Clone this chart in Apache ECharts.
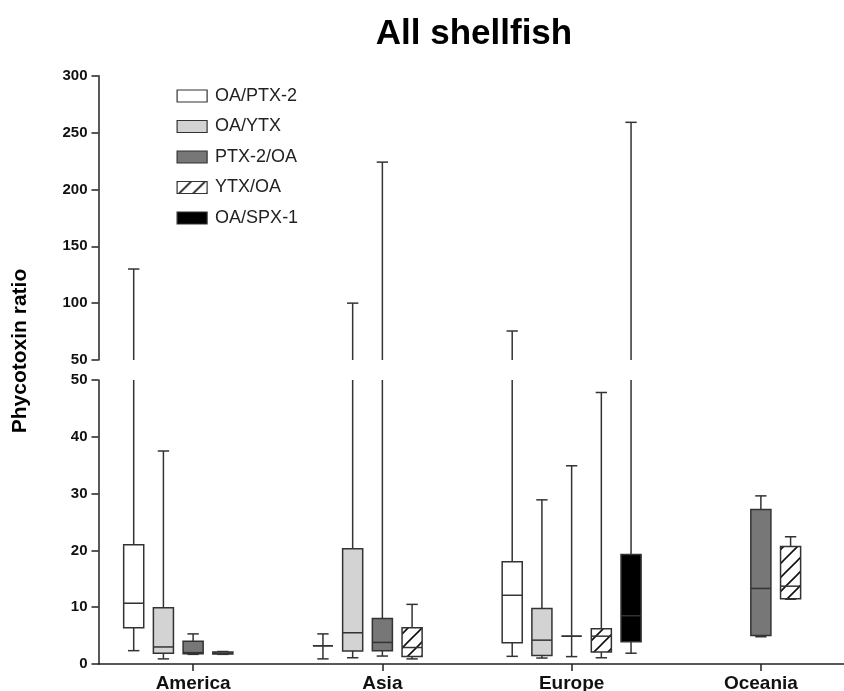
<!DOCTYPE html>
<html>
<head>
<meta charset="utf-8">
<script src="https://cdn.jsdelivr.net/npm/echarts@6/dist/echarts.min.js"></script>
<style>
html,body{margin:0;padding:0;background:#fff;}
#chart{width:844px;height:691px;}
</style>
</head>
<body>
<div id="chart"></div>
<script>
// ---- data ----
const categories = ['America', 'Asia', 'Europe', 'Oceania'];
const seriesNames = ['OA/PTX-2', 'OA/YTX', 'PTX-2/OA', 'YTX/OA', 'OA/SPX-1'];
// per category: [min, Q1, median, Q3, max]; null = no data
const oaPtx2 = [[2.35, 6.4, 10.7, 21.0, 130], [0.9, 3.2, 3.2, 3.2, 5.3], [1.35, 3.75, 12.1, 18.0, 75.5], null];
const oaYtx = [[0.9, 1.9, 3.0, 9.9, 37.5], [1.1, 2.3, 5.5, 20.3, 100], [1.05, 1.5, 4.2, 9.75, 28.9], null];
const ptx2Oa = [[1.7, 1.8, 2.0, 4.0, 5.3], [1.4, 2.35, 3.8, 8.0, 224], [1.3, 4.9, 4.9, 4.9, 34.9], [4.8, 5.0, 13.3, 27.2, 29.6]];
const ytxOa = [[1.7, 1.75, 1.9, 2.1, 2.2], [0.9, 1.3, 2.9, 6.4, 10.5], [1.1, 2.1, 4.9, 6.2, 47.8], [11.4, 11.5, 13.7, 20.7, 22.4]];
const oaSpx1 = [null, null, [1.9, 3.9, 8.5, 19.3, 259], null];
const seriesData = [oaPtx2, oaYtx, ptx2Oa, ytxOa, oaSpx1];
const lowerTicks = [0, 50, 10];   // min, max, interval
const upperTicks = [50, 300, 50];

// ---- styles ----
const hatch = document.createElement('canvas');
hatch.width = 14; hatch.height = 14;
(function () {
  const c = hatch.getContext('2d');
  c.fillStyle = '#fff'; c.fillRect(0, 0, 14, 14);
  c.strokeStyle = '#111'; c.lineWidth = 1.6;
  c.beginPath();
  c.moveTo(-2, 16); c.lineTo(16, -2);
  c.moveTo(-2, 2); c.lineTo(2, -2);
  c.moveTo(12, 16); c.lineTo(16, 12);
  c.stroke();
})();
const hatchFill = { image: hatch, repeat: 'repeat' };
const fills = ['#ffffff', '#d3d3d3', '#777777', hatchFill, '#000000'];
const STROKE = '#333';
const LW = 1.5;

function makeRender(sIdx, part) {
  return function (params, api) {
    const cat = api.value(0);
    const mn = api.value(1), q1 = api.value(2), md = api.value(3), q3 = api.value(4), mx = api.value(5);
    const band = api.size([1, 0])[0];
    const cx = api.coord([cat, part === 'upper' ? 100 : 10])[0] + (sIdx - 2) * band * 0.157;
    const bw = band * 0.106;
    const cw = band * 0.06;
    const Y = v => api.coord([cat, v])[1];
    const children = [];
    const line = (x1, y1, x2, y2) => children.push({
      type: 'line', shape: { x1, y1, x2, y2 },
      style: { stroke: STROKE, lineWidth: LW }
    });
    if (part === 'upper') {
      if (mx > 50) {
        line(cx, Y(50), cx, Y(mx));
        line(cx - cw / 2, Y(mx), cx + cw / 2, Y(mx));
      }
    } else {
      const top = Math.min(mx, 50);
      line(cx, Y(mn), cx, Y(q1));
      line(cx - cw / 2, Y(mn), cx + cw / 2, Y(mn));
      line(cx, Y(q3), cx, Y(top));
      if (mx <= 50) line(cx - cw / 2, Y(mx), cx + cw / 2, Y(mx));
      children.push({
        type: 'rect',
        shape: { x: cx - bw / 2, y: Y(q3), width: bw, height: Y(q1) - Y(q3) },
        style: { fill: fills[sIdx], stroke: STROKE, lineWidth: LW }
      });
      line(cx - bw / 2, Y(md), cx + bw / 2, Y(md));
    }
    return { type: 'group', children };
  };
}

const series = [];
seriesData.forEach((arr, sIdx) => {
  const data = [];
  arr.forEach((v, ci) => { if (v) data.push([ci].concat(v)); });
  ['lower', 'upper'].forEach(part => {
    series.push({
      type: 'custom',
      name: seriesNames[sIdx],
      xAxisIndex: part === 'upper' ? 0 : 1,
      yAxisIndex: part === 'upper' ? 0 : 1,
      renderItem: makeRender(sIdx, part),
      encode: { x: 0, y: [1, 2, 3, 4, 5] },
      itemStyle: { color: fills[sIdx], borderColor: STROKE, borderWidth: 1.2 },
      clip: false,
      silent: true,
      data
    });
  });
});

const FONT = 'Liberation Sans, Arial, sans-serif';
const yAxisCommon = {
  type: 'value',
  axisLine: { show: true, lineStyle: { color: '#222', width: 1.5 } },
  axisTick: { show: true, length: 7, lineStyle: { color: '#222', width: 1.5 } },
  axisLabel: { fontFamily: FONT, fontWeight: 'bold', fontSize: 15, color: '#111', margin: 11 },
  splitLine: { show: false }
};

const option = {
  animation: false,
  backgroundColor: '#fff',
  grid: [
    { left: 98.5, width: 757, top: 75.7, height: 284.3, outerBoundsMode: 'none' },
    { left: 98.5, width: 757, top: 380, height: 284, outerBoundsMode: 'none' }
  ],
  xAxis: [
    { type: 'category', gridIndex: 0, data: categories, show: false },
    {
      type: 'category', gridIndex: 1, data: categories,
      axisLine: { show: true, lineStyle: { color: '#222', width: 1.5 } },
      axisTick: { show: true, alignWithLabel: true, length: 7, lineStyle: { color: '#222', width: 1.5 } },
      axisLabel: { fontFamily: FONT, fontWeight: 'bold', fontSize: 19, color: '#111', margin: 10 }
    }
  ],
  yAxis: [
    Object.assign({}, yAxisCommon, { gridIndex: 0, min: upperTicks[0], max: upperTicks[1], interval: upperTicks[2] }),
    Object.assign({}, yAxisCommon, { gridIndex: 1, min: lowerTicks[0], max: lowerTicks[1], interval: lowerTicks[2] })
  ],
  legend: {
    orient: 'vertical',
    left: 171.5, top: 82,
    icon: 'rect',
    itemWidth: 30, itemHeight: 12, itemGap: 12.5,
    selectedMode: false,
    itemStyle: { borderColor: STROKE, borderWidth: 1.2 },
    textStyle: { fontFamily: FONT, fontSize: 18, color: '#222', lineHeight: 18, padding: [0, 0, 0, 3] },
    data: seriesNames
  },
  graphic: [
    {
      type: 'text', x: 474, y: 34,
      style: { text: 'All shellfish', x: 0, y: 0, textAlign: 'center', textVerticalAlign: 'middle',
        font: 'bold 35px ' + FONT, fill: '#000' }
    },
    {
      type: 'text', x: 20, y: 351, rotation: Math.PI / 2,
      style: { text: 'Phycotoxin ratio', x: 0, y: 0, textAlign: 'center', textVerticalAlign: 'middle',
        font: 'bold 21px ' + FONT, fill: '#000' }
    }
  ],
  series
};

const chart = echarts.init(document.getElementById('chart'), null, { renderer: 'canvas' });
chart.setOption(option);
</script>
</body>
</html>
